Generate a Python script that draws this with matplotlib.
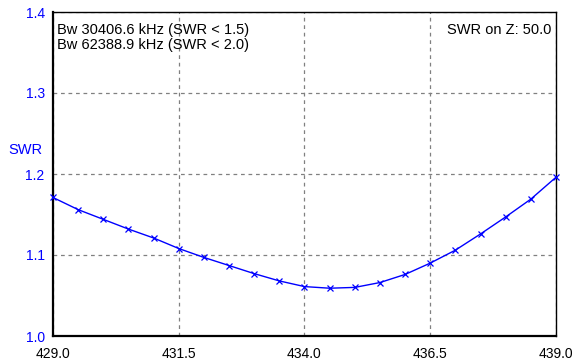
import matplotlib
matplotlib.use("Agg")
import matplotlib.pyplot as plt

freq = [429.0, 429.5, 430.0, 430.5, 431.0, 431.5, 432.0, 432.5, 433.0, 433.5,
        434.0, 434.5, 435.0, 435.5, 436.0, 436.5, 437.0, 437.5, 438.0, 438.5, 439.0]
swr = [1.171, 1.156, 1.144, 1.132, 1.121, 1.108, 1.097, 1.087, 1.077, 1.068,
       1.061, 1.059, 1.060, 1.066, 1.076, 1.090, 1.106, 1.126, 1.147, 1.169, 1.196]
xticks = [429.0, 431.5, 434.0, 436.5, 439.0]
yticks = [1.0, 1.1, 1.2, 1.3, 1.4]
info_lines = ["Bw 30406.6 kHz (SWR < 1.5)", "Bw 62388.9 kHz (SWR < 2.0)"]
z_text = "SWR on Z: 50.0"

plt.rcParams['font.family'] = ['Liberation Sans', 'DejaVu Sans']

fig = plt.figure(figsize=(5.87, 3.64), dpi=100)
ax = fig.add_axes([53/587, 1-336/364, (556-53)/587, (336-12)/364])

ax.plot(freq, swr, color='#0000ff', lw=1.0, marker='x', ms=4, mew=0.9, zorder=3, clip_on=False)

ax.set_xlim(429.0, 439.0)
ax.set_ylim(1.0, 1.4)
ax.set_xticks(xticks)
ax.set_xticklabels([f"{v:.1f}" for v in xticks])
ax.set_yticks(yticks)
ax.set_yticklabels([f"{v:.1f}" for v in yticks])
ax.tick_params(length=0, labelsize=10, pad=6)
ax.tick_params(axis='x', pad=8)
for lab in ax.get_yticklabels():
    lab.set_color('#0000ff')
ax.grid(True, color='#808080', linestyle=(0, (3, 3)), lw=0.9)

for side in ['top', 'right']:
    ax.spines[side].set_linewidth(1.0)
for side in ['left', 'bottom']:
    ax.spines[side].set_linewidth(1.6)

ax.text(0.008, 0.965, info_lines[0] + "\n" + info_lines[1], transform=ax.transAxes,
        ha='left', va='top', fontsize=10.5, linespacing=1.1)
ax.text(0.99, 0.965, z_text, transform=ax.transAxes, ha='right', va='top', fontsize=10.5)

fig.text(8/587, 1-150/364, "SWR", color='#0000ff', fontsize=10.5, ha='left', va='center')

fig.savefig("out.png", dpi=100)
